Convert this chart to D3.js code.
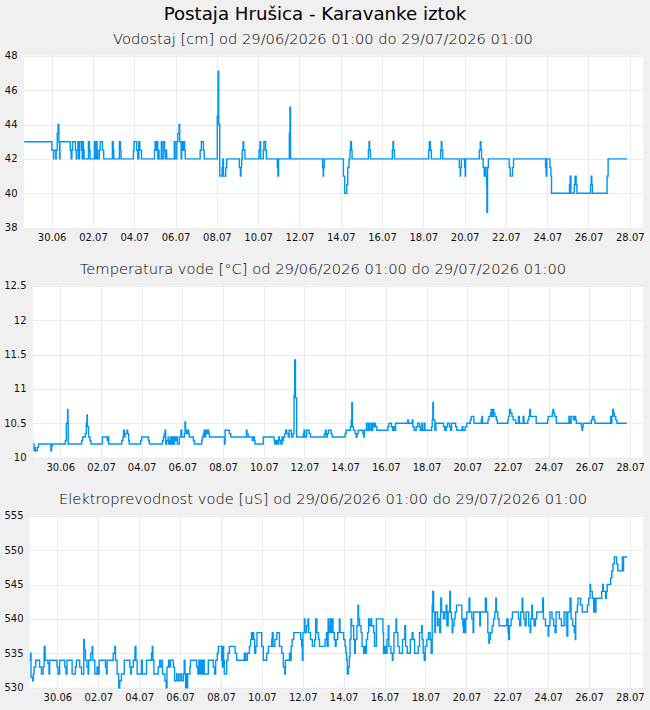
<!DOCTYPE html>
<html><head><meta charset="utf-8">
<script src="https://cdn.jsdelivr.net/npm/d3@7"></script>
<style>
html,body{margin:0;padding:0;background:#f0f0f0;}
svg{display:block;font-family:"DejaVu Sans",sans-serif;}
</style></head><body>
<svg id="chart" width="650" height="710"></svg>
<script>
const mainTitle = "Postaja Hrušica - Karavanke iztok";
const panelTitles = [
  "Vodostaj [cm] od 29/06/2026 01:00 do 29/07/2026 01:00",
  "Temperatura vode [°C] od 29/06/2026 01:00 do 29/07/2026 01:00",
  "Elektroprevodnost vode [uS] od 29/06/2026 01:00 do 29/07/2026 01:00"
];
// days counted from 28.06.2026 00:00
const xTickDays = [2,4,6,8,10,12,14,16,18,20,22,24,26,28,30];
const wlTicks = [38,40,42,44,46,48];
const tempTicks = [10,10.5,11,11.5,12,12.5];
const condTicks = [530,535,540,545,550,555];

// [day, value] change points (step series)
const waterLevel = [[0.67,43],[2.01,42.5],[2.09,42],[2.10,42.5],[2.20,42],[2.22,42.5],[2.27,43.5],[2.31,44],[2.35,43],[2.38,42],[2.40,43],[2.90,42.5],[2.94,42],[2.98,42.5],[3.01,43],[3.15,42.5],[3.19,42],[3.22,42.5],[3.27,43],[3.31,42],[3.35,43],[3.44,42.5],[3.48,42],[3.51,43],[3.54,42.5],[3.57,42],[3.78,43],[3.83,42.5],[3.86,42],[4.07,43],[4.10,42],[4.17,43],[4.20,42.5],[4.23,42],[4.31,42.5],[4.35,43],[4.46,42.5],[4.52,42],[4.94,43],[4.98,42.5],[5.01,42],[5.28,43],[5.33,42.5],[5.36,42],[5.96,42.5],[5.99,43],[6.12,42.5],[6.17,42],[6.22,43],[6.27,42.5],[6.35,42],[6.98,42.5],[7.01,43],[7.06,42.5],[7.10,43],[7.14,42],[7.17,42.5],[7.20,42],[7.31,43],[7.35,42],[7.43,43],[7.47,42.5],[7.52,42],[7.56,42.5],[7.57,42],[7.94,43],[7.98,42],[8.06,43],[8.11,43.5],[8.17,44],[8.20,43],[8.27,42],[8.30,43],[8.35,42.5],[8.40,43],[8.44,42.5],[8.47,42],[9.19,42.5],[9.25,43],[9.35,42.5],[9.39,42],[10.02,44.5],[10.06,47.1],[10.09,44],[10.14,41],[10.25,41.5],[10.29,42],[10.32,41],[10.43,41.5],[10.48,42],[11.09,41.5],[11.14,41],[11.17,41.5],[11.20,42],[11.23,42.5],[11.27,43],[11.30,42.5],[11.36,42],[12.04,42.5],[12.09,43],[12.12,42],[12.25,42.5],[12.28,43],[12.36,42.5],[12.40,42],[12.93,41.5],[12.96,41],[12.99,42],[13.51,43.5],[13.54,45],[13.57,42],[15.12,41.5],[15.15,41],[15.17,41.5],[15.20,42],[16.13,41],[16.19,40],[16.29,40.5],[16.34,41.5],[16.40,42],[16.45,42.5],[16.48,43],[16.52,42.5],[16.55,42],[17.34,42.5],[17.37,43],[17.40,42.5],[17.44,42],[18.50,42.5],[18.53,43],[18.56,42.5],[18.60,42],[20.26,42.5],[20.29,43],[20.34,42.5],[20.39,42],[20.84,42.5],[20.87,43],[20.90,42.5],[20.94,42],[21.74,41.5],[21.79,41],[21.81,41.5],[21.84,42],[22.00,41.5],[22.03,41],[22.05,42],[22.71,42.5],[22.76,43],[22.79,42.5],[22.82,42],[22.90,41.5],[22.95,41],[22.98,41.5],[23.03,41],[23.06,40.5],[23.08,38.9],[23.11,41.5],[23.15,42],[24.16,41.5],[24.21,41],[24.32,41.5],[24.37,42],[25.92,41.5],[25.95,41],[25.98,42],[26.13,41.5],[26.18,41],[26.21,40],[27.08,40.5],[27.11,41],[27.15,40],[27.31,40.5],[27.35,41],[27.40,40.5],[27.44,40],[28.10,40.5],[28.13,41],[28.16,40.5],[28.19,40],[28.90,41],[28.95,42],[29.87,42]];

const temperature = [[0.66,10.2],[0.71,10.1],[0.75,10.15],[0.77,10.1],[0.87,10.15],[0.93,10.2],[1.54,10.1],[1.57,10.17],[1.61,10.2],[2.25,10.25],[2.30,10.5],[2.36,10.7],[2.38,10.5],[2.39,10.2],[3.05,10.25],[3.10,10.3],[3.23,10.35],[3.28,10.5],[3.31,10.62],[3.33,10.45],[3.39,10.3],[3.46,10.25],[3.51,10.2],[4.07,10.3],[4.31,10.25],[4.34,10.3],[4.38,10.2],[5.02,10.25],[5.08,10.3],[5.11,10.4],[5.15,10.3],[5.18,10.35],[5.28,10.4],[5.31,10.35],[5.36,10.25],[5.39,10.2],[5.95,10.25],[6.00,10.3],[6.33,10.25],[6.38,10.2],[7.02,10.25],[7.07,10.3],[7.11,10.35],[7.15,10.4],[7.18,10.2],[7.23,10.25],[7.30,10.3],[7.33,10.2],[7.39,10.25],[7.43,10.3],[7.46,10.2],[7.52,10.3],[7.56,10.2],[7.62,10.3],[7.66,10.25],[7.72,10.3],[7.75,10.2],[7.85,10.3],[7.93,10.4],[7.97,10.3],[8.10,10.35],[8.13,10.52],[8.16,10.4],[8.21,10.35],[8.28,10.4],[8.31,10.35],[8.34,10.3],[8.54,10.25],[8.59,10.2],[8.95,10.25],[8.98,10.3],[9.03,10.35],[9.07,10.4],[9.10,10.3],[9.15,10.4],[9.21,10.35],[9.25,10.4],[9.30,10.35],[9.33,10.3],[10.07,10.2],[10.10,10.4],[10.31,10.35],[10.38,10.3],[11.15,10.4],[11.18,10.35],[11.23,10.3],[11.44,10.25],[11.51,10.3],[11.54,10.25],[11.57,10.2],[11.98,10.3],[12.51,10.25],[12.54,10.2],[12.61,10.25],[12.67,10.2],[12.74,10.3],[12.77,10.25],[12.84,10.2],[12.90,10.3],[12.93,10.25],[12.97,10.3],[13.03,10.35],[13.08,10.4],[13.13,10.35],[13.20,10.3],[13.25,10.4],[13.36,10.3],[13.44,10.35],[13.49,10.9],[13.52,11.42],[13.56,10.87],[13.62,10.3],[13.95,10.35],[13.98,10.4],[14.02,10.3],[14.11,10.4],[14.23,10.35],[14.30,10.3],[14.98,10.35],[15.03,10.4],[15.07,10.3],[15.13,10.35],[15.18,10.4],[15.31,10.35],[15.36,10.3],[16.00,10.35],[16.05,10.4],[16.26,10.45],[16.30,10.55],[16.33,10.8],[16.36,10.45],[16.41,10.4],[16.49,10.35],[16.54,10.3],[16.59,10.35],[16.64,10.4],[16.87,10.35],[16.92,10.3],[16.95,10.4],[17.05,10.5],[17.08,10.4],[17.16,10.5],[17.20,10.4],[17.28,10.5],[17.31,10.4],[17.36,10.5],[17.39,10.45],[17.46,10.5],[17.49,10.45],[17.56,10.4],[18.10,10.45],[18.15,10.5],[18.28,10.45],[18.33,10.4],[18.38,10.45],[18.43,10.4],[18.48,10.5],[19.08,10.55],[19.11,10.5],[19.30,10.55],[19.33,10.45],[19.39,10.4],[19.49,10.45],[19.57,10.5],[19.66,10.45],[19.69,10.4],[19.77,10.5],[19.80,10.4],[19.89,10.5],[19.92,10.4],[20.25,10.45],[20.28,10.55],[20.31,10.8],[20.34,10.55],[20.41,10.4],[20.46,10.5],[20.84,10.45],[20.90,10.4],[20.97,10.45],[21.03,10.5],[21.13,10.45],[21.18,10.4],[21.23,10.5],[21.43,10.45],[21.49,10.4],[21.75,10.45],[21.79,10.4],[21.90,10.45],[21.98,10.5],[22.15,10.55],[22.20,10.6],[22.33,10.5],[22.69,10.55],[22.72,10.6],[22.75,10.5],[23.02,10.55],[23.07,10.6],[23.15,10.65],[23.18,10.7],[23.21,10.6],[23.28,10.7],[23.31,10.65],[23.36,10.6],[23.43,10.55],[23.48,10.5],[24.00,10.55],[24.03,10.6],[24.08,10.7],[24.13,10.65],[24.20,10.6],[24.26,10.55],[24.38,10.5],[24.52,10.6],[24.56,10.5],[24.75,10.6],[24.79,10.5],[24.98,10.55],[25.03,10.6],[25.07,10.7],[25.10,10.6],[25.39,10.5],[25.95,10.55],[25.98,10.6],[26.18,10.65],[26.21,10.7],[26.25,10.65],[26.30,10.6],[26.38,10.5],[27.00,10.6],[27.03,10.55],[27.07,10.5],[27.11,10.6],[27.23,10.55],[27.28,10.6],[27.33,10.55],[27.36,10.5],[27.61,10.45],[27.64,10.4],[27.67,10.45],[27.70,10.5],[28.10,10.55],[28.15,10.6],[28.23,10.55],[28.28,10.5],[29.05,10.6],[29.08,10.5],[29.11,10.6],[29.15,10.7],[29.18,10.65],[29.23,10.6],[29.30,10.55],[29.36,10.5],[29.85,10.5]];

const conductivity = [[0.64,534],[0.69,535],[0.71,531.5],[0.79,531],[0.82,532],[0.86,533],[0.94,534],[1.13,533],[1.22,532],[1.30,533],[1.35,535],[1.36,536],[1.40,534],[1.54,533.5],[1.59,532],[1.62,534],[1.98,533],[2.03,532],[2.11,534],[2.36,533],[2.42,532],[2.47,534],[2.72,532],[2.88,533],[2.93,534],[3.09,533],[3.18,532],[3.29,537],[3.32,535.5],[3.37,534],[3.45,533],[3.50,532],[3.53,534],[3.63,535],[3.70,536],[3.73,534],[3.83,532],[3.94,533],[4.01,532],[4.04,534],[4.35,533],[4.40,532],[4.43,534],[4.73,535],[4.81,536],[4.84,534],[4.92,532],[5.00,530],[5.05,531],[5.13,532],[5.27,534],[5.54,533],[5.59,532],[5.62,533],[5.71,534],[5.79,535],[5.80,536],[5.84,534],[5.90,532],[6.11,534],[6.15,532],[6.36,534],[6.60,535],[6.64,536],[6.67,534],[6.72,532],[6.93,533],[7.00,534],[7.03,533],[7.11,534],[7.14,532],[7.26,531],[7.32,530],[7.36,533],[7.44,534],[7.47,533],[7.53,534],[7.67,533],[7.73,531],[7.83,532],[7.91,531],[7.99,532],[8.07,531],[8.16,532],[8.20,534],[8.24,532],[8.27,530],[8.30,532],[8.33,530],[8.37,532],[8.48,533],[8.51,534],[8.81,533],[8.87,532],[8.92,534],[8.97,532],[9.04,534],[9.09,532],[9.13,534],[9.18,532],[9.38,534],[9.62,533],[9.69,532],[9.74,534],[9.82,535],[9.87,536],[10.03,534],[10.07,533],[10.10,536],[10.13,534],[10.16,532],[10.28,534],[10.34,535],[10.41,536],[10.69,535],[10.77,534],[11.14,535],[11.21,534],[11.29,535],[11.39,536],[11.45,537],[11.49,538],[11.52,537],[11.57,538],[11.60,537],[11.65,535],[11.70,536],[11.76,538],[11.99,536],[12.07,534],[12.24,535],[12.32,536],[12.48,537],[12.51,538],[12.55,536],[12.64,537],[12.73,538],[12.86,536],[12.97,535],[13.05,533],[13.12,532],[13.15,534],[13.35,535],[13.40,534],[13.43,536],[13.48,537],[13.56,538],[13.90,537],[13.95,536],[13.98,534],[14.01,538],[14.08,540],[14.11,538],[14.19,539],[14.25,540],[14.29,538],[14.38,537],[14.47,536],[14.58,537],[14.63,540],[14.69,538],[14.77,537],[14.82,536],[15.09,537],[15.16,538],[15.19,536],[15.24,540],[15.27,538],[15.32,539],[15.35,540],[15.38,538],[15.45,540],[15.48,538],[15.54,537],[15.59,536],[15.63,537],[15.71,538],[15.79,540],[15.82,538],[16.00,537],[16.07,536],[16.11,535],[16.15,534],[16.18,532],[16.23,533],[16.28,534.5],[16.31,537],[16.36,540],[16.39,539],[16.49,537],[16.54,535],[16.57,537],[16.65,539],[16.70,542],[16.73,540],[16.78,539],[16.85,538],[16.90,536],[16.98,535],[17.03,536],[17.07,535],[17.11,537],[17.17,538],[17.22,540],[17.25,539],[17.33,540],[17.37,539],[17.47,538],[17.51,536],[17.60,540],[17.92,538],[17.95,535],[18.00,536],[18.07,535],[18.12,537],[18.18,539],[18.21,536],[18.31,535],[18.38,534],[18.41,535],[18.46,538],[18.56,540],[18.59,538],[18.65,536],[18.73,535],[18.88,537],[18.99,539],[19.03,536],[19.11,535],[19.26,537],[19.35,538],[19.39,537],[19.47,535],[19.65,536],[19.71,538],[19.81,539],[19.84,537],[19.89,535],[19.94,534],[19.99,536],[20.07,537],[20.15,538],[20.23,537],[20.28,535],[20.33,542],[20.36,544],[20.40,541],[20.46,538],[20.49,541],[20.59,539],[20.62,540],[20.70,538],[20.74,541],[20.75,543],[20.79,541],[20.88,540],[20.95,541],[21.01,542],[21.05,539],[21.11,541],[21.19,544],[21.22,541],[21.27,540],[21.31,538],[21.34,539],[21.40,540],[21.45,541],[21.52,542],[21.78,540],[21.83,539],[21.86,538],[21.89,540],[21.94,538],[21.97,540],[22.02,541],[22.13,543],[22.17,541],[22.27,540],[22.33,538],[22.36,541],[22.66,539],[22.69,541],[22.93,543],[22.98,541],[23.05,538],[23.10,536.5],[23.13,537],[23.18,538],[23.26,539],[23.33,540],[23.39,541],[23.44,543],[23.47,541],[23.54,540],[23.60,539],[23.98,540],[24.04,538],[24.07,537],[24.11,539],[24.19,540],[24.25,541],[24.55,540],[24.61,539],[24.66,541],[24.73,543],[24.76,541],[24.81,540],[24.87,539],[24.92,541],[25.05,539],[25.12,538],[25.15,540],[25.20,542],[25.23,540],[25.31,539],[25.38,540],[25.44,541],[25.73,543],[25.77,540],[25.87,539],[26.00,537.5],[26.03,539],[26.09,541],[26.19,540],[26.27,539],[26.34,538],[26.39,541],[26.55,540],[26.65,539],[26.78,541],[26.88,539],[26.92,537.5],[26.96,541],[27.07,543],[27.12,540],[27.20,539],[27.28,538],[27.33,537],[27.35,541],[27.43,542],[27.46,543],[27.59,542],[27.67,541],[27.92,542],[27.98,543],[28.05,545],[28.08,544],[28.16,543],[28.23,541],[28.26,543],[28.31,541],[28.34,543],[28.62,544],[28.67,545],[28.70,544],[28.81,543],[28.85,544],[28.89,545],[29.06,546],[29.12,547],[29.17,548],[29.24,549],[29.35,548],[29.41,547],[29.63,549],[29.66,547],[29.69,549],[29.87,549]];

const dayZero = Date.UTC(2026, 5, 28);
const toDate = d => new Date(dayZero + d * 864e5);
const xStartDay = 0.66, xEndDay = 30.64;

const W = 650, H = 710;
const plotRight = 643, plotH = 172;
const panels = [
  {title: panelTitles[0], data: waterLevel, ticks: wlTicks, left: 24, top: 55.7},
  {title: panelTitles[1], data: temperature, ticks: tempTicks, left: 33, top: 285.7},
  {title: panelTitles[2], data: conductivity, ticks: condTicks, left: 30, top: 515.7}
];
const lineColor = "#0096f0";
const gridColor = "#ebebeb";

const svg = d3.select("#chart");
svg.append("rect").attr("width", W).attr("height", H).attr("fill", "#f0f0f0");
svg.append("text").attr("x", 315).attr("y", 20).attr("text-anchor", "middle")
  .attr("font-size", 18.2).attr("fill", "#000").text(mainTitle);

panels.forEach(p => {
  const g = svg.append("g");
  const x = d3.scaleUtc().domain([toDate(xStartDay), toDate(xEndDay)]).range([p.left, plotRight]);
  const y = d3.scaleLinear().domain(d3.extent(p.ticks)).range([p.top + plotH, p.top]);

  g.append("text").attr("x", 323).attr("y", p.top - 11.5).attr("text-anchor", "middle")
    .attr("font-size", 14.7).attr("font-weight", 200).attr("fill", "#000").text(p.title);

  g.append("rect").attr("x", p.left).attr("y", p.top).attr("width", plotRight - p.left)
    .attr("height", plotH).attr("fill", "#fff");

  const tickDates = xTickDays.map(toDate);
  g.append("g").selectAll("line").data(p.ticks).join("line")
    .attr("x1", p.left).attr("x2", plotRight)
    .attr("y1", d => Math.round(y(d)) + 0.5).attr("y2", d => Math.round(y(d)) + 0.5)
    .attr("stroke", gridColor).attr("stroke-width", 1);
  g.append("g").selectAll("line").data(tickDates).join("line")
    .attr("x1", d => Math.round(x(d)) + 0.5).attr("x2", d => Math.round(x(d)) + 0.5)
    .attr("y1", p.top).attr("y2", p.top + plotH)
    .attr("stroke", gridColor).attr("stroke-width", 1);

  g.append("g").selectAll("text").data(p.ticks).join("text")
    .attr("x", p.left - 6.5).attr("y", d => y(d)).attr("dy", "0.35em")
    .attr("text-anchor", "end").attr("font-size", 10).attr("fill", "#111")
    .text(d => String(d));

  const xAxis = d3.axisBottom(x).tickValues(tickDates)
    .tickFormat(d3.utcFormat("%d.%m")).tickSize(0).tickPadding(6);
  const ax = g.append("g").attr("transform", `translate(0,${p.top + plotH})`).call(xAxis);
  ax.select(".domain").remove();
  ax.selectAll("text").attr("font-size", 10).attr("font-family", "DejaVu Sans").attr("fill", "#111");

  const line = d3.line().curve(d3.curveStepAfter)
    .x(d => x(toDate(d[0]))).y(d => y(d[1]));
  g.append("path").datum(p.data).attr("d", line)
    .attr("fill", "none").attr("stroke", lineColor).attr("stroke-width", 1.4);
});
</script>
</body></html>
